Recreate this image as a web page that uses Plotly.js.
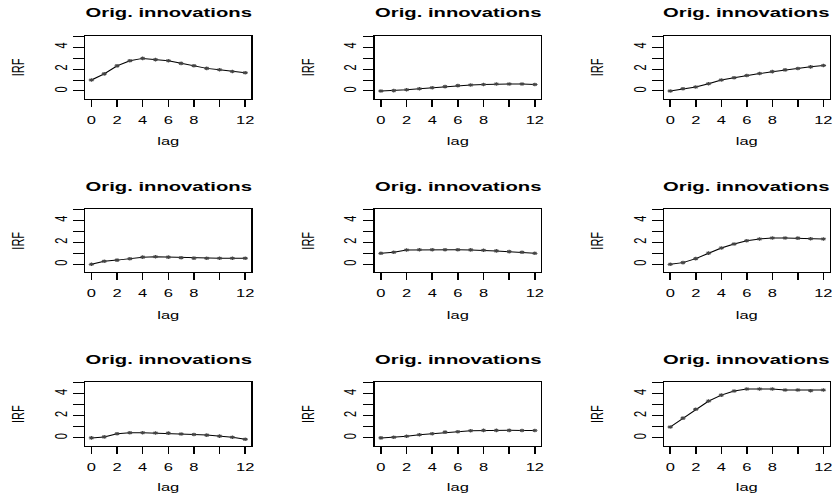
<!DOCTYPE html>
<html>
<head>
<meta charset="utf-8">
<script src="https://cdn.plot.ly/plotly-3.0.1.min.js"></script>
<style>
  html, body { margin: 0; padding: 0; background: #ffffff; overflow: hidden; }
  #wrap { width: 833px; height: 493px; overflow: hidden; }
  #chart { width: 555.333px; height: 493px; transform: scaleX(1.5); transform-origin: 0 0; }
</style>
</head>
<body>
<div id="wrap"><div id="chart"></div></div>
<script>
// ---- data ----
const lags = [0, 1, 2, 3, 4, 5, 6, 7, 8, 9, 10, 11, 12];
const panelTitle = "Orig. innovations";
const xLabel = "lag";
const yLabel = "IRF";
const xTickVals = [0, 2, 4, 6, 8, 10, 12];
const xTickText = ["0", "2", "4", "6", "8", "", "12"];
const yTickVals = [0, 1, 2, 3, 4, 5];
const yTickText = ["0", "", "2", "", "4", ""];

const irf_1_1 = [1.00, 1.56, 2.29, 2.75, 2.97, 2.86, 2.76, 2.52, 2.30, 2.06, 1.93, 1.78, 1.66];
const irf_1_2 = [0.00, 0.03, 0.11, 0.20, 0.30, 0.40, 0.49, 0.55, 0.59, 0.63, 0.64, 0.64, 0.59];
const irf_1_3 = [0.00, 0.21, 0.37, 0.66, 1.00, 1.20, 1.41, 1.59, 1.76, 1.92, 2.05, 2.20, 2.32];
const irf_2_1 = [0.00, 0.28, 0.38, 0.50, 0.65, 0.68, 0.65, 0.59, 0.56, 0.55, 0.55, 0.55, 0.55];
const irf_2_2 = [1.00, 1.10, 1.30, 1.32, 1.33, 1.33, 1.32, 1.31, 1.28, 1.22, 1.15, 1.10, 1.00];
const irf_2_3 = [0.00, 0.15, 0.52, 1.02, 1.48, 1.85, 2.15, 2.31, 2.40, 2.40, 2.38, 2.32, 2.31];
const irf_3_1 = [0.00, 0.09, 0.37, 0.46, 0.47, 0.44, 0.43, 0.35, 0.31, 0.25, 0.16, 0.06, -0.12];
const irf_3_2 = [0.00, 0.06, 0.15, 0.28, 0.38, 0.52, 0.56, 0.65, 0.68, 0.68, 0.68, 0.66, 0.66];
const irf_3_3 = [0.98, 1.78, 2.58, 3.32, 3.85, 4.22, 4.40, 4.41, 4.40, 4.31, 4.31, 4.25, 4.31];

const panels = [irf_1_1, irf_1_2, irf_1_3, irf_2_1, irf_2_2, irf_2_3, irf_3_1, irf_3_2, irf_3_3];

// ---- layout geometry (fractions of the page) ----
const W = 833, H = 493;
const colDom = [[85.3 / W, 251.5 / W], [375.0 / W, 541.3 / W], [664.5 / W, 830.0 / W]];
const rowPx = [[36, 99], [209.3, 272.3], [382.3, 446]];
const rowDom = rowPx.map(r => [1 - r[1] / H, 1 - r[0] / H]);

const fontFam = "Liberation Sans, Arial, Helvetica, sans-serif";
const traces = [];
const layout = {
  width: 555.333,
  height: 493,
  margin: { l: 0, r: 0, t: 0, b: 0, pad: 0 },
  paper_bgcolor: "#ffffff",
  plot_bgcolor: "#ffffff",
  showlegend: false,
  font: { family: fontFam, color: "#000000", size: 11 },
  annotations: []
};

panels.forEach((vals, i) => {
  const r = Math.floor(i / 3), c = i % 3;
  const k = i === 0 ? "" : String(i + 1);
  traces.push({
    x: lags,
    y: vals,
    xaxis: "x" + k,
    yaxis: "y" + k,
    type: "scatter",
    mode: "lines+markers",
    line: { color: "#000000", width: 1 },
    marker: { symbol: "asterisk-open", size: 3, color: "#444444", line: { color: "#444444", width: 0.8 } },
    hoverinfo: "skip"
  });
  layout["xaxis" + k] = {
    domain: colDom[c],
    anchor: "y" + k,
    range: [-0.48, 12.48],
    tickmode: "array",
    tickvals: xTickVals,
    ticktext: xTickText,
    ticks: "outside",
    ticklen: 7,
    tickwidth: 1,
    tickcolor: "#000000",
    ticklabelstandoff: 4,
    showline: true,
    mirror: true,
    linecolor: "#000000",
    linewidth: 1,
    showgrid: false,
    zeroline: false,
    tickfont: { family: fontFam, size: 11, color: "#000000" },
    title: { text: xLabel, font: { family: fontFam, size: 11, color: "#000000" }, standoff: 12 },
    automargin: false,
    fixedrange: true
  };
  layout["yaxis" + k] = {
    domain: rowDom[r],
    anchor: "x" + k,
    range: [-0.73, 5.01],
    tickmode: "array",
    tickvals: yTickVals,
    ticktext: yTickText,
    tickangle: -90,
    ticks: "outside",
    ticklen: 7,
    tickwidth: 1,
    tickcolor: "#000000",
    ticklabelstandoff: 2.5,
    showline: true,
    mirror: true,
    linecolor: "#000000",
    linewidth: 1,
    showgrid: false,
    zeroline: false,
    tickfont: { family: fontFam, size: 11, color: "#000000" },
    title: { text: yLabel, font: { family: fontFam, size: 11, color: "#000000" }, standoff: 15 },
    automargin: false,
    fixedrange: true
  };
  layout.annotations.push({
    text: "<b>" + panelTitle + "</b>",
    xref: "paper",
    yref: "paper",
    x: (colDom[c][0] + colDom[c][1]) / 2,
    y: rowDom[r][1] + 23.3 / H,
    xanchor: "center",
    yanchor: "middle",
    showarrow: false,
    font: { family: fontFam, size: 13.5, color: "#000000" }
  });
});

Plotly.newPlot("chart", traces, layout, { staticPlot: true, displayModeBar: false });
</script>
</body>
</html>
